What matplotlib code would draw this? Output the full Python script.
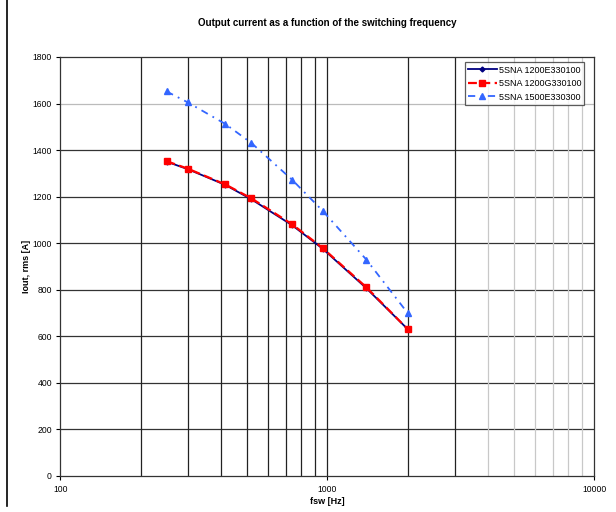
import matplotlib

matplotlib.use("Agg")
import matplotlib.pyplot as plt
from matplotlib.lines import Line2D
from matplotlib.ticker import FixedFormatter, FixedLocator, NullFormatter

plt.rcParams["font.family"] = ["Liberation Sans", "DejaVu Sans"]

# switching frequency [Hz]
fsw = [250, 300, 415, 520, 740, 960, 1400, 2000]
# output current, rms [A]
iout_1200e = [1350, 1318, 1250, 1188, 1076, 976, 806, 630]
iout_1200g = [1352, 1320, 1252, 1192, 1080, 979, 810, 630]
iout_1500e = [1652, 1605, 1512, 1430, 1271, 1139, 929, 699]

labels = ["5SNA 1200E330100", "5SNA 1200G330100", "5SNA 1500E330300"]

y_ticks = [0, 200, 400, 600, 800, 1000, 1200, 1400, 1600, 1800]
x_major = [100, 1000, 10000]
x_minor = [200, 300, 400, 500, 600, 700, 800, 900,
           2000, 3000, 4000, 5000, 6000, 7000, 8000, 9000]

fig = plt.figure(figsize=(6.16, 5.12), dpi=100)
ax = fig.add_axes([0.0979, 0.0709, 0.8669, 0.8178])

# grid, drawn by hand so the far decade can be lighter as in the source
for y in y_ticks[1:-1]:
    ax.axhline(y, color="#bbbbbb" if y == 1600 else "#333333", lw=0.9, zorder=1)
for x in x_minor + [1000]:
    ax.axvline(x, color="#c8c8c8" if x >= 4000 else "#222222", lw=0.9, zorder=1)

ax.plot(fsw, iout_1200e, color="#000080", lw=1.3, marker="D", markersize=2.5,
        label=labels[0], zorder=3)
ax.plot(fsw, iout_1200g, color="#ff0000", lw=1.6, dashes=(4, 2), marker="s",
        markersize=4.5, label=labels[1], zorder=4)
ax.plot(fsw, iout_1500e, color="#3366ff", lw=1.3, dashes=(4, 3, 1, 3), marker="^",
        markersize=4.5, label=labels[2], zorder=4)

ax.set_xscale("log")
ax.set_xlim(100, 10000)
ax.set_ylim(0, 1800)
ax.xaxis.set_major_locator(FixedLocator(x_major))
ax.xaxis.set_major_formatter(FixedFormatter([str(v) for v in x_major]))
ax.xaxis.set_minor_locator(FixedLocator(x_minor))
ax.xaxis.set_minor_formatter(NullFormatter())
ax.set_yticks(y_ticks)
ax.tick_params(axis="x", which="major", labelsize=6.2, length=3, width=0.8, pad=4)
ax.tick_params(axis="x", which="minor", length=0)
ax.tick_params(axis="y", labelsize=6.2, length=3, width=0.8, pad=3)

for side in ax.spines.values():
    side.set_color("#333333")
    side.set_linewidth(0.9)

ax.set_xlabel("fsw [Hz]", fontsize=6.5, fontweight="bold", labelpad=2)
ax.set_ylabel("Iout, rms [A]", fontsize=6.5, fontweight="bold", labelpad=1)
ax.set_title("Output current as a function of the switching frequency",
             fontsize=7, fontweight="bold", pad=22)

leg = ax.legend(loc="upper right", bbox_to_anchor=(0.981, 0.987), fontsize=6.5,
                frameon=True, fancybox=False, handlelength=3.2, borderpad=0.35,
                labelspacing=0.5, handletextpad=0.2, borderaxespad=0)
leg.get_frame().set_edgecolor("#333333")
leg.get_frame().set_linewidth(0.9)

# chart border on the left edge of the page
fig.add_artist(Line2D([7 / 616, 7 / 616], [0.012, 1.0], color="black", lw=1.2))

fig.savefig("out.png")
